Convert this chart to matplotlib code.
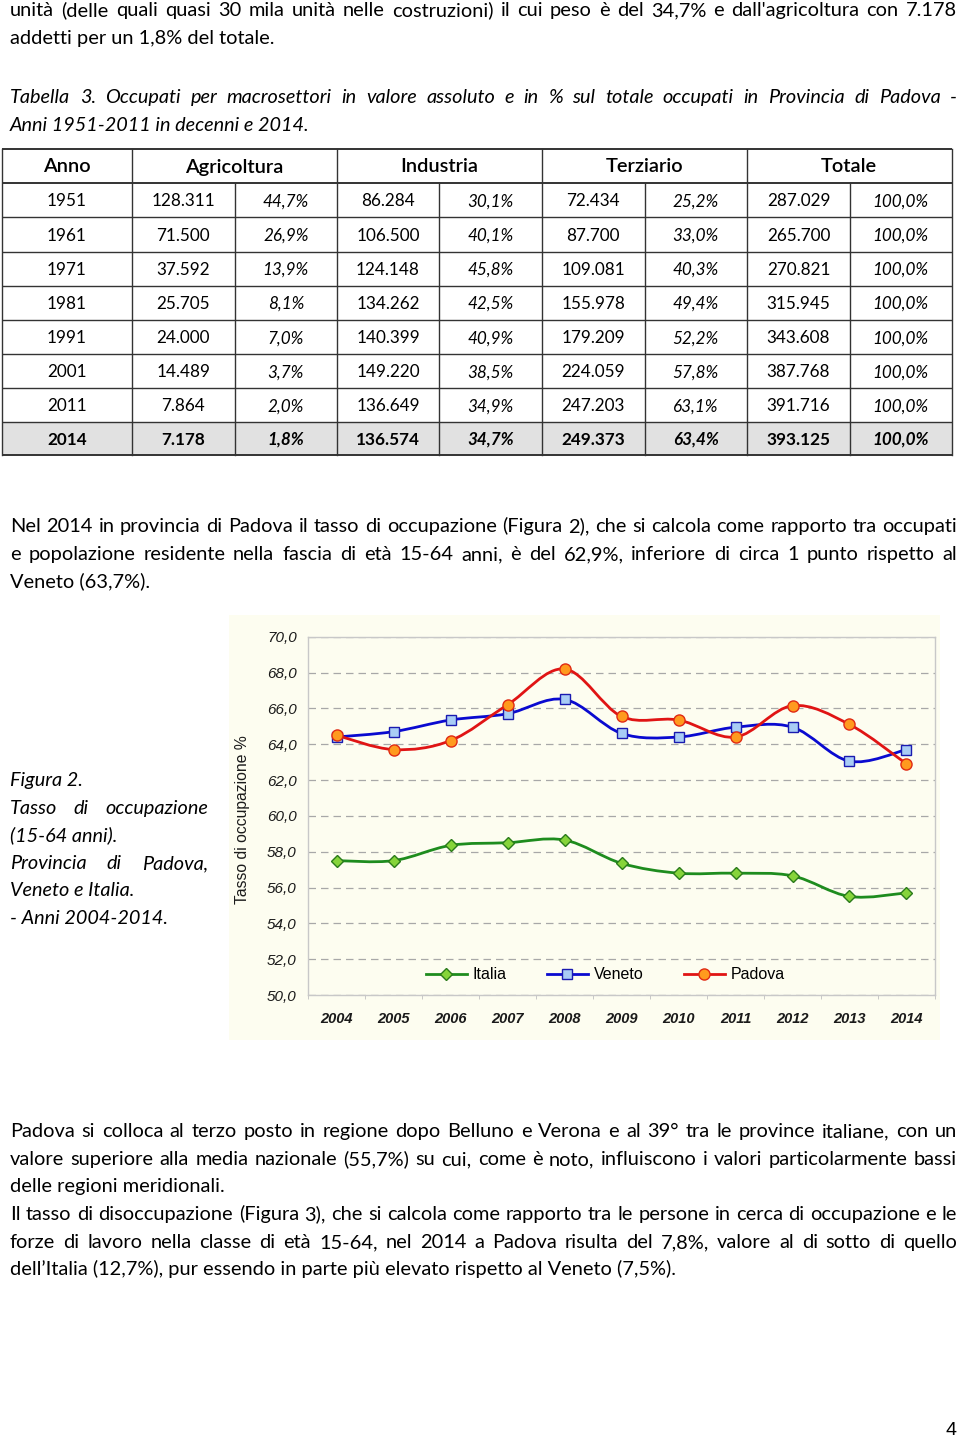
import numpy as np
import matplotlib
matplotlib.use('Agg')
import matplotlib.pyplot as plt
from matplotlib.path import Path
from matplotlib.patches import PathPatch, Rectangle
from matplotlib.lines import Line2D

# ---------------- data ----------------
years = ['2004', '2005', '2006', '2007', '2008', '2009', '2010', '2011', '2012', '2013', '2014']
italia = [57.5, 57.5, 58.35, 58.5, 58.65, 57.35, 56.8, 56.8, 56.65, 55.5, 55.7]
veneto = [64.4, 64.7, 65.35, 65.7, 66.5, 64.6, 64.4, 64.95, 64.95, 63.05, 63.7]
padova = [64.5, 63.7, 64.2, 66.2, 68.2, 65.55, 65.35, 64.4, 66.15, 65.1, 62.9]
y_ticks = [50, 52, 54, 56, 58, 60, 62, 64, 66, 68, 70]

tab_years = ['1951', '1961', '1971', '1981', '1991', '2001', '2011', '2014']
agr_n = ['128.311', '71.500', '37.592', '25.705', '24.000', '14.489', '7.864', '7.178']
agr_p = ['44,7%', '26,9%', '13,9%', '8,1%', '7,0%', '3,7%', '2,0%', '1,8%']
ind_n = ['86.284', '106.500', '124.148', '134.262', '140.399', '149.220', '136.649', '136.574']
ind_p = ['30,1%', '40,1%', '45,8%', '42,5%', '40,9%', '38,5%', '34,9%', '34,7%']
ter_n = ['72.434', '87.700', '109.081', '155.978', '179.209', '224.059', '247.203', '249.373']
ter_p = ['25,2%', '33,0%', '40,3%', '49,4%', '52,2%', '57,8%', '63,1%', '63,4%']
tot_n = ['287.029', '265.700', '270.821', '315.945', '343.608', '387.768', '391.716', '393.125']
tot_p = ['100,0%'] * 8
tab_headers = ['Anno', 'Agricoltura', 'Industria', 'Terziario', 'Totale']

# ---------------- page setup ----------------
W, H, DPI = 960, 1440, 100
fig = plt.figure(figsize=(W / DPI, H / DPI), dpi=DPI, facecolor='white')
page = fig.add_axes([0, 0, 1, 1])
page.set_xlim(0, W)
page.set_ylim(H, 0)
page.axis('off')
renderer = fig.canvas.get_renderer()


def measure(s, **kw):
    t = page.text(0, 0, s, **kw)
    w = t.get_window_extent(renderer).width
    t.remove()
    return w


def fit(s, target, **kw):
    return 10.0 * target / measure(s, fontsize=10, **kw)


def text_line(s, x0, yb, x1=None, **kw):
    if x1 is None:
        page.text(x0, yb, s, ha='left', va='baseline', **kw)
        return
    words = s.split(' ')
    widths = [measure(w, **kw) for w in words]
    gap = (x1 - x0 - sum(widths)) / (len(words) - 1)
    x = x0
    for w, wd in zip(words, widths):
        page.text(x, yb, w, ha='left', va='baseline', **kw)
        x += wd + gap


FAM = 'Lato'
body_size = fit('addetti per un 1,8% del totale.', 266, family=FAM)
ital_size = fit('Anni 1951-2011 in decenni e 2014.', 299, family=FAM, style='italic')
data_size = fit('128.311', 64, family=FAM)
head_size = fit('Agricoltura', 99, family=FAM, weight='semibold')

body = dict(family=FAM, fontsize=body_size, color='black')
ital = dict(family=FAM, fontsize=ital_size, color='black', style='italic')

L, R = 10, 957
# top paragraph
text_line("unità (delle quali quasi 30 mila unità nelle costruzioni) il cui peso è del 34,7% e dall'agricoltura con 7.178",
          L, 16, R, **body)
text_line("addetti per un 1,8% del totale.", L, 44, **body)
text_line("Tabella 3. Occupati per macrosettori in valore assoluto e in % sul totale occupati in Provincia di Padova -",
          L, 103, R, **ital)
text_line("Anni 1951-2011 in decenni e 2014.", L, 131, **ital)

# ---------------- table ----------------
cx = [2, 131.7, 234.7, 337, 439, 541.7, 644.6, 747, 850, 951.6]
ry = [149.3, 182.7, 217.3, 251.7, 285.7, 320, 354, 388.3, 422, 455.3]
lc = '#333333'
page.add_patch(Rectangle((cx[0], ry[-2]), cx[-1] - cx[0], ry[-1] - ry[-2],
                         facecolor='#e1e1e1', edgecolor='none', zorder=0))
for i, y in enumerate(ry):
    page.plot([cx[0], cx[-1]], [y, y], color=lc, lw=1.4 if i in (0, 1, len(ry) - 1) else 1.0,
              solid_capstyle='butt')
for j, x in enumerate(cx):
    if j in (0, 1, 3, 5, 7, 9):
        page.plot([x, x], [ry[0], ry[-1]], color=lc, lw=1.0)
    else:
        page.plot([x, x], [ry[1], ry[-1]], color=lc, lw=1.0)

group_bounds = [(cx[0], cx[1]), (cx[1], cx[3]), (cx[3], cx[5]), (cx[5], cx[7]), (cx[7], cx[9])]
for name, (a, b) in zip(tab_headers, group_bounds):
    page.text((a + b) / 2, (ry[0] + ry[1]) / 2 + 6.5, name, ha='center', va='baseline',
              family=FAM, fontsize=head_size, weight='semibold', color='black')

cols = [tab_years, agr_n, agr_p, ind_n, ind_p, ter_n, ter_p, tot_n, tot_p]
for r in range(len(tab_years)):
    yc = (ry[r + 1] + ry[r + 2]) / 2 + 6.2
    last = r == len(tab_years) - 1
    for c, col in enumerate(cols):
        xc = (cx[c] + cx[c + 1]) / 2
        italic = c in (2, 4, 6, 8)
        page.text(xc, yc, col[r], ha='center', va='baseline', family=FAM, fontsize=data_size,
                  style='italic' if italic else 'normal', weight='bold' if last else 'normal',
                  color='black')

# second paragraph
text_line("Nel 2014 in provincia di Padova il tasso di occupazione (Figura 2), che si calcola come rapporto tra occupati",
          L, 532, R, **body)
text_line("e popolazione residente nella fascia di età 15-64 anni, è del 62,9%, inferiore di circa 1 punto rispetto al",
          L, 560, R, **body)
text_line("Veneto (63,7%).", L, 587, **body)

# figure caption at left
text_line("Figura 2.", L, 786, **ital)
text_line("Tasso di occupazione", L, 814, 208, **ital)
text_line("(15-64 anni).", L, 841, **ital)
text_line("Provincia di Padova,", L, 869, 208, **ital)
text_line("Veneto e Italia.", L, 896, **ital)
text_line("- Anni 2004-2014.", L, 924, **ital)

# third paragraph
text_line("Padova si colloca al terzo posto in regione dopo Belluno e Verona e al 39° tra le province italiane, con un",
          L, 1137, R, **body)
text_line("valore superiore alla media nazionale (55,7%) su cui, come è noto, influiscono i valori particolarmente bassi",
          L, 1165, R, **body)
text_line("delle regioni meridionali.", L, 1192, **body)
text_line("Il tasso di disoccupazione (Figura 3), che si calcola come rapporto tra le persone in cerca di occupazione e le",
          L, 1220, R, **body)
text_line("forze di lavoro nella classe di età 15-64, nel 2014 a Padova risulta del 7,8%, valore al di sotto di quello",
          L, 1248, R, **body)
text_line("dell’Italia (12,7%), pur essendo in parte più elevato rispetto al Veneto (7,5%).", L, 1275, **body)

# page number
page.text(951, 1435, '4', ha='center', va='baseline', family='Liberation Sans', fontsize=14, color='black')

# ---------------- chart ----------------
cream = '#fdfdf0'
page.add_patch(Rectangle((229, 615), 940 - 229, 1040 - 615, facecolor=cream, edgecolor='none', zorder=0))

ax = fig.add_axes([308 / W, 1 - 995 / H, 627 / W, 358.3 / H])
ax.set_facecolor(cream)
x = np.arange(len(years))
ax.set_xlim(-0.5, len(years) - 0.5)
ax.set_ylim(y_ticks[0], y_ticks[-1])


def smooth_path(xs, ys):
    pts = np.column_stack([xs, ys]).astype(float)
    verts = [pts[0]]
    codes = [Path.MOVETO]
    n = len(pts)
    for i in range(n - 1):
        p0 = pts[i - 1] if i > 0 else pts[i]
        p1 = pts[i]
        p2 = pts[i + 1]
        p3 = pts[i + 2] if i + 2 < n else pts[i + 1]
        verts += [p1 + (p2 - p0) / 6.0, p2 - (p3 - p1) / 6.0, p2]
        codes += [Path.CURVE4] * 3
    return Path(verts, codes)


series = [
    ('Italia', italia, '#1e8c1e', 'D', '#86d43a', '#2a7a1a', 6.5),
    ('Veneto', veneto, '#0a0ad0', 's', '#a9cdf5', '#1a1ab0', 7.5),
    ('Padova', padova, '#e01414', 'o', '#ff9a1e', '#e02a14', 8.0),
]
handles = []
for name, vals, col, mk, mfc, mec, ms in series:
    ax.add_patch(PathPatch(smooth_path(x, vals), fill=False, edgecolor=col, lw=2.0, zorder=3,
                           capstyle='round', joinstyle='round'))
    ax.plot(x, vals, linestyle='none', marker=mk, markersize=ms, markerfacecolor=mfc,
            markeredgecolor=mec, markeredgewidth=1.0, zorder=4)
    handles.append(Line2D([], [], color=col, lw=2.0, marker=mk, markersize=ms,
                          markerfacecolor=mfc, markeredgecolor=mec, markeredgewidth=1.0, label=name))

ax.set_yticks(y_ticks)
ax.set_yticklabels([f'{v:.1f}'.replace('.', ',') for v in y_ticks],
                   family='Liberation Sans', style='italic', fontsize=11, color='#1a1a1a')
ax.set_xticks(x)
ax.set_xticklabels(years, family='Liberation Sans', style='italic', weight='bold', fontsize=10.5,
                   color='#1a1a1a')
ax.set_xticks(np.arange(-0.5, len(years), 1.0), minor=True)
ax.tick_params(axis='x', which='major', length=0, pad=12)
ax.tick_params(axis='x', which='minor', length=3, color='#c0c0c0', direction='out')
ax.tick_params(axis='y', length=0, pad=8)
ax.grid(axis='y', linestyle=(0, (6, 4)), color='#a8a8a8', lw=0.9)
ax.set_axisbelow(True)
for s in ax.spines.values():
    s.set_color('#c8c8c8')
    s.set_linewidth(1.0)

ax.set_ylabel('Tasso di occupazione %', family='Liberation Sans', fontsize=11.3, color='#1a1a1a')
ax.yaxis.set_label_coords(-0.104, 0.49)
ax.yaxis.label.set_va('center')

ax.legend(handles=handles, loc='center', bbox_to_anchor=(0.474, 0.056), ncol=3, frameon=False,
          prop={'family': 'Liberation Sans', 'size': 11.5}, handlelength=2.6, handletextpad=0.35,
          columnspacing=2.5)

fig.savefig('out.png', dpi=DPI, facecolor='white')
